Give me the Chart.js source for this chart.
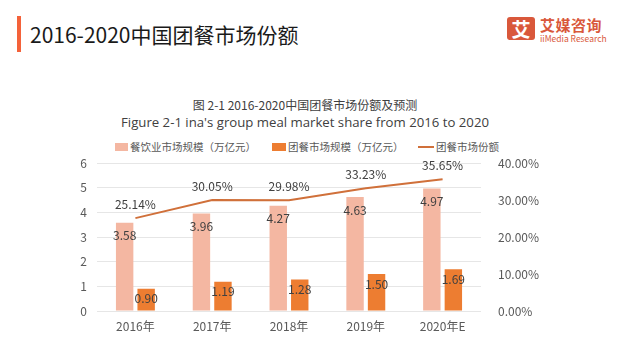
<html>
<head>
<meta charset="utf-8">
<title>2016-2020中国团餐市场份额</title>
<style>
    body { margin: 0; width: 617px; height: 348px; background: #fff; position: relative; overflow: hidden;
        font-family: "Noto Sans CJK SC", "Noto Sans", sans-serif; }
    .abs { position: absolute; white-space: nowrap; }
    #bar { left: 17px; top: 16px; width: 4px; height: 36px; background: #f4623a; }
    #head { left: 30px; top: 20px; font-size: 21px; line-height: 28px; color: #1a1a1a; }
    #logoBox { left: 507px; top: 17px; width: 28px; height: 23px; background: #d9583b; border-radius: 3px;
        color: #fff; font-size: 19px; line-height: 23px; text-align: center; font-weight: bold; }
    #logoCn { left: 540px; top: 16px; font-size: 15px; line-height: 18px; color: #d9583b; font-weight: bold; letter-spacing: 0.5px; }
    #logoEn { left: 540px; top: 34px; font-size: 8.5px; line-height: 9px; color: #d9583b; }
    .title { left: 0; width: 610px; text-align: center; color: #404040; }
    #t1 { top: 96px; font-size: 12px; line-height: 17px; }
    #t2 { top: 113px; font-size: 13.2px; line-height: 18px; font-family: "Open Sans", "Noto Sans", sans-serif; }
    .leg { top: 140px; font-size: 10.5px; line-height: 14px; color: #595959; }
    .sw { top: 143px; height: 8px; }
    #wrap { position: absolute; left: 0; top: 146px; width: 617px; height: 194px; }
</style>
</head>
<body>
<script src="https://cdn.jsdelivr.net/npm/chart.js"></script>

<div class="abs" id="bar"></div>
<div class="abs" id="head">2016-2020中国团餐市场份额</div>
<div class="abs" id="logoBox">艾</div>
<div class="abs" id="logoCn">艾媒咨询</div>
<div class="abs" id="logoEn">iiMedia Research</div>

<div class="abs title" id="t1">图 2-1 2016-2020中国团餐市场份额及预测</div>
<div class="abs title" id="t2">Figure 2-1 ina's group meal market share from 2016 to 2020</div>

<div class="abs sw" style="left:115px;width:13px;background:#f4b7a2"></div>
<div class="abs leg" style="left:130px">餐饮业市场规模（万亿元）</div>
<div class="abs sw" style="left:272px;width:14px;background:#ed7d31"></div>
<div class="abs sw" style="left:418px;width:16px;height:2px;top:146px;background:#d0703a"></div>
<div class="abs leg" style="left:288px">团餐市场规模（万亿元）</div>
<div class="abs leg" style="left:436px">团餐市场份额</div>

<div id="wrap"><canvas id="chart"></canvas></div>

<script>
    const years = ['2016年', '2017年', '2018年', '2019年', '2020年E']
    const cateringSize = [3.58, 3.96, 4.27, 4.63, 4.97]
    const groupMealSize = [0.90, 1.19, 1.28, 1.50, 1.69]
    const groupMealShare = [25.14, 30.05, 29.98, 33.23, 35.65]

    const font = { family: '"Noto Sans CJK SC", "Noto Sans", sans-serif', size: 12 }

    // draw value labels like the excel data labels
    const valueLabels = {
        id: 'valueLabels',
        afterDatasetsDraw(chart) {
            const ctx = chart.ctx
            ctx.save()
            ctx.fillStyle = '#404040'
            ctx.font = '12px "Noto Sans CJK SC", "Noto Sans", sans-serif'
            ctx.textAlign = 'center'
            ctx.textBaseline = 'middle'
            chart.data.datasets.forEach((ds, i) => {
                const meta = chart.getDatasetMeta(i)
                meta.data.forEach((el, j) => {
                    const v = ds.data[j]
                    if (ds.type === 'line') {
                        ctx.fillText(v.toFixed(2) + '%', el.x, el.y - 14)
                    } else {
                        ctx.fillText(v.toFixed(2), el.x, el.y + (i === 0 ? 13 : 10))
                    }
                })
            })
            ctx.restore()
        }
    }

    new Chart(document.getElementById('chart'), {
        type: 'bar',
        data: {
            labels: years,
            datasets: [{
                label: '餐饮业市场规模（万亿元）',
                data: cateringSize,
                backgroundColor: '#f4b7a2',
                yAxisID: 'y',
                order: 2
            }, {
                label: '团餐市场规模（万亿元）',
                data: groupMealSize,
                backgroundColor: '#ed7d31',
                yAxisID: 'y',
                order: 2
            }, {
                type: 'line',
                label: '团餐市场份额',
                data: groupMealShare,
                borderColor: '#d0703a',
                borderWidth: 2,
                pointRadius: 0,
                tension: 0,
                yAxisID: 'y1',
                order: 1
            }]
        },
        options: {
            responsive: true,
            maintainAspectRatio: false,
            animation: false,
            categoryPercentage: 0.56,
            barPercentage: 0.81,
            layout: { padding: { top: 9, left: 0, right: 0, bottom: 0 } },
            plugins: {
                legend: { display: false },
                tooltip: { enabled: false }
            },
            scales: {
                x: {
                    grid: { display: false, drawTicks: false },
                    border: { display: false },
                    ticks: { color: '#595959', font: font, padding: 8, maxRotation: 0 },
                    afterFit(scale) { scale.height = 29 }
                },
                y: {
                    position: 'left',
                    min: 0,
                    max: 6,
                    ticks: { stepSize: 1, color: '#595959', font: font, padding: 10 },
                    grid: { color: '#e6e6e6', drawTicks: false },
                    border: { display: false },
                    afterFit(scale) { scale.width = 97 }
                },
                y1: {
                    position: 'right',
                    min: 0,
                    max: 40,
                    ticks: {
                        stepSize: 10, color: '#595959', font: font, padding: 9,
                        callback: v => v.toFixed(2) + '%'
                    },
                    grid: { display: false },
                    border: { display: false },
                    afterFit(scale) { scale.width = 136 }
                }
            }
        },
        plugins: [valueLabels]
    });
</script>
</body>
</html>
